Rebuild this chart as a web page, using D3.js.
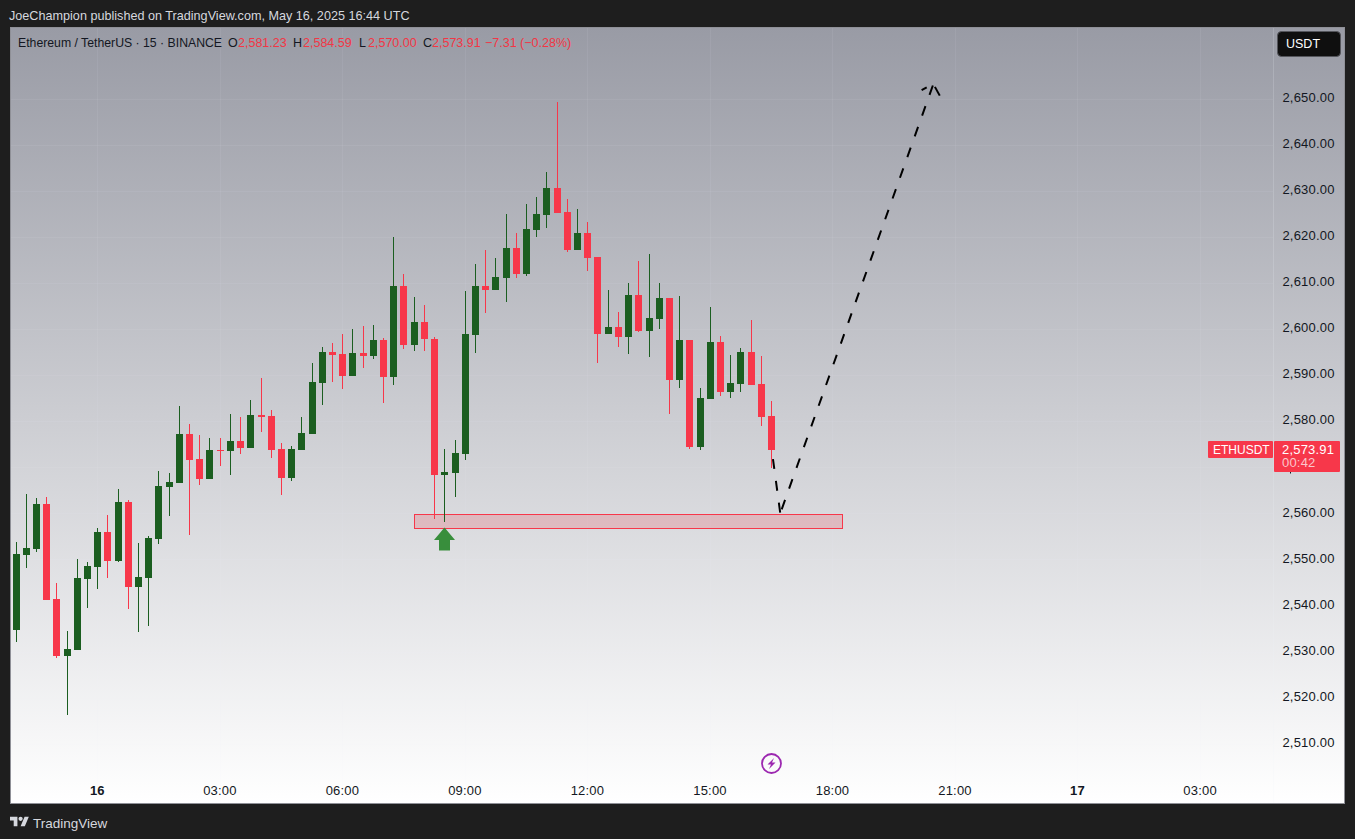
<!DOCTYPE html>
<html>
<head>
<meta charset="utf-8">
<script src="https://cdn.jsdelivr.net/npm/d3@7/dist/d3.min.js"></script>
<style>
  html, body { margin: 0; padding: 0; background: #1e1e1e; }
  svg { display: block; font-family: "Liberation Sans", Arial, sans-serif; }
  .axis text { fill: #131722; font-size: 13px; letter-spacing: 0.2px; }
</style>
</head>
<body>
<svg width="1355" height="839"></svg>
<script>
// 15 minute bars
var barOpen = [2534.78,2551.06,2552.37,2562.14,2541.51,2529.14,2530.44,2545.85,2548.46,2556.06,
  2549.76,2562.57,2544.12,2546.07,2554.54,2565.83,2566.70,2577.33,2571.91,2567.56,
  2573.86,2573.64,2575.81,2574.29,2581.46,2581.24,2574.08,2567.78,2573.86,2577.33,
  2588.41,2595.14,2594.70,2589.93,2594.92,2594.27,2597.74,2589.71,2609.47,2596.66,
  2601.65,2597.96,2568.43,2568.87,2572.99,2598.83,2609.47,2608.60,2611.20,2617.72,
  2612.07,2621.62,2624.88,2630.74,2625.53,2617.28,2620.97,2615.76,2599.05,2600.56,
  2598.39,2607.51,2599.70,2602.30,2606.86,2589.06,2597.74,2574.51,2584.93,2597.31,
  2586.45,2588.19,2595.14,2588.19,2581.23];
var barHigh = [2553.89,2564.31,2563.44,2563.66,2544.99,2534.56,2550.20,2549.54,2556.93,2559.75,
  2565.39,2563.00,2553.67,2555.19,2569.30,2568.87,2583.41,2579.51,2577.12,2576.47,
  2576.47,2581.68,2581.02,2584.72,2589.49,2582.54,2575.38,2574.73,2581.02,2592.75,
  2596.22,2597.09,2599.05,2600.13,2600.78,2601.00,2598.18,2620.10,2612.07,2607.08,
  2605.34,2598.39,2574.08,2576.03,2608.38,2614.24,2617.28,2615.55,2625.10,2620.97,
  2627.27,2628.79,2634.22,2649.41,2628.36,2626.18,2623.36,2615.76,2608.60,2603.82,
  2610.12,2614.89,2616.41,2610.12,2606.86,2607.30,2597.74,2587.32,2604.91,2598.61,
  2594.49,2596.01,2602.08,2594.27,2584.59];
var barLow = [2532.18,2548.24,2551.72,2541.29,2528.70,2516.33,2530.44,2539.56,2543.68,2546.07,
  2549.54,2539.34,2534.35,2535.65,2553.45,2559.53,2566.70,2555.41,2566.26,2567.56,
  2570.39,2568.43,2572.99,2574.29,2577.77,2572.12,2564.09,2567.13,2573.86,2577.33,
  2583.63,2588.62,2587.10,2589.93,2591.66,2593.62,2584.06,2587.97,2595.79,2595.35,
  2595.35,2558.88,2558.23,2563.66,2571.69,2594.92,2603.60,2608.60,2605.99,2611.20,
  2611.64,2620.10,2622.06,2625.32,2616.85,2617.28,2612.72,2592.75,2599.05,2596.22,
  2594.70,2599.48,2594.05,2600.13,2581.68,2587.32,2574.08,2573.86,2584.93,2585.58,
  2585.15,2586.45,2587.97,2579.07,2570.00];
var barClose = [2551.28,2552.58,2562.14,2541.29,2529.14,2530.66,2546.07,2548.68,2556.06,2549.76,
  2562.57,2544.12,2546.29,2554.75,2566.04,2566.91,2577.33,2571.69,2567.56,2573.86,
  2573.64,2575.81,2574.29,2581.46,2581.02,2573.86,2567.78,2574.08,2577.55,2588.62,
  2595.14,2594.49,2589.93,2594.92,2594.27,2597.74,2589.71,2609.47,2596.66,2601.65,
  2597.96,2568.43,2569.08,2573.21,2599.05,2609.47,2608.60,2611.42,2617.72,2612.07,
  2621.84,2625.10,2630.74,2625.32,2617.28,2620.97,2615.55,2599.05,2600.56,2598.39,
  2607.51,2599.70,2602.52,2606.86,2589.06,2597.74,2574.51,2585.15,2597.31,2586.45,
  2588.41,2595.14,2587.97,2581.02,2573.91];

var priceGrid = [2510,2520,2530,2540,2550,2560,2570,2580,2590,2600,2610,2620,2630,2640,2650];
// 2,570.00 sits behind the last price label in the reference
var priceLabels = [2510,2520,2530,2540,2550,2560,2580,2590,2600,2610,2620,2630,2640,2650];
var timeTickBars = [8,20,32,44,56,68,80,92,104,116];
var timeTickLabels = ["16","03:00","06:00","09:00","12:00","15:00","18:00","21:00","17","03:00"];

// drawings, in bar index / price
var zoneBars = [39, 81];
var zonePrices = [2559.9, 2556.9];
var signalBar = 42;
var eventBar = 74;
var dashLegs = [
  [[74.14,2571.9],[74.85,2560.2]],
  [[89.8,2653.0],[74.87,2560.2]],
  [[88.7,2652.0],[89.2,2652.6]],
  [[90.0,2652.7],[90.55,2650.5]]
];

var legendItems = [
  {t: "O", x: 228, c: "#131722"}, {t: "2,581.23", x: 238, c: "#f23645"},
  {t: "H", x: 293, c: "#131722"}, {t: "2,584.59", x: 303, c: "#f23645"},
  {t: "L", x: 359, c: "#131722"}, {t: "2,570.00", x: 368, c: "#f23645"},
  {t: "C", x: 423, c: "#131722"}, {t: "2,573.91", x: 432, c: "#f23645"},
  {t: "\u22127.31 (\u22120.28%)", x: 485, c: "#f23645"}
];

var red = "#f7374a", green = "#1b5e20";

var svg = d3.select("svg");

var x = d3.scaleLinear().domain([0, 74]).range([16, 771.54]);
var y = d3.scaleLinear().domain([2650, 2510]).range([99.3, 744.14]);

var defs = svg.append("defs");
var grad = defs.append("linearGradient").attr("id", "paneBg")
    .attr("x1", 0).attr("x2", 0).attr("y1", 0).attr("y2", 1);
grad.append("stop").attr("offset", "0%").attr("stop-color", "#999ba5");
grad.append("stop").attr("offset", "100%").attr("stop-color", "#ffffff");
defs.append("clipPath").attr("id", "paneClip").append("rect")
    .attr("x", 11).attr("y", 28).attr("width", 1262).attr("height", 775);

// chart pane
svg.append("rect").attr("x", 10.5).attr("y", 27.5).attr("width", 1334).attr("height", 776)
    .attr("fill", "url(#paneBg)").attr("stroke", "#8f9097");

// grid
var grid = svg.append("g").attr("shape-rendering", "crispEdges")
    .attr("stroke", "rgba(240,243,250,0.07)");
grid.selectAll(".h").data(priceGrid).enter().append("line").attr("class", "h")
    .attr("x1", 11).attr("x2", 1273)
    .attr("y1", function(d) { return Math.floor(y(d)) + 0.5; })
    .attr("y2", function(d) { return Math.floor(y(d)) + 0.5; });
grid.selectAll(".v").data(timeTickBars).enter().append("line").attr("class", "v")
    .attr("y1", 28).attr("y2", 803)
    .attr("x1", function(d) { return Math.floor(x(d)) + 0.5; })
    .attr("x2", function(d) { return Math.floor(x(d)) + 0.5; });

// scale divider
svg.append("line").attr("x1", 1273.5).attr("x2", 1273.5).attr("y1", 28).attr("y2", 803)
    .attr("stroke", "rgba(240,243,250,0.18)");

// price axis
var yAxis = d3.axisRight(y).tickValues(priceLabels).tickSize(0).tickPadding(8)
    .tickFormat(d3.format(",.2f"));
var yg = svg.append("g").attr("class", "axis").attr("transform", "translate(1274.4,-2)").call(yAxis);
yg.select(".domain").remove();

// time axis
var xAxis = d3.axisBottom(x).tickValues(timeTickBars).tickSize(0).tickPadding(0)
    .tickFormat(function(d, i) { return timeTickLabels[i]; });
var xg = svg.append("g").attr("class", "axis").attr("transform", "translate(-0.8,786)").call(xAxis);
xg.select(".domain").remove();
xg.selectAll("text").style("font-weight", function(d, i) {
    return /:/.test(timeTickLabels[i]) ? "normal" : "bold";
});

// support zone goes under the bars
svg.append("rect")
    .attr("x", Math.floor(x(zoneBars[0])) + 0.5)
    .attr("y", Math.floor(y(zonePrices[0])) + 0.5)
    .attr("width", Math.round(x(zoneBars[1]) - x(zoneBars[0])) - 1)
    .attr("height", Math.round(y(zonePrices[1]) - y(zonePrices[0])))
    .attr("fill", "rgba(242,54,69,0.2)")
    .attr("stroke", "#f7374a").attr("shape-rendering", "crispEdges");

// candles
var candle = svg.append("g").attr("clip-path", "url(#paneClip)").attr("shape-rendering", "crispEdges")
    .selectAll("g").data(barOpen).enter().append("g")
    .attr("fill", function(d, i) { return barClose[i] < d ? red : green; });
candle.append("rect")
    .attr("x", function(d, i) { return Math.floor(x(i)); })
    .attr("width", 1)
    .attr("y", function(d, i) { return Math.round(y(barHigh[i])); })
    .attr("height", function(d, i) { return Math.round(y(barLow[i])) - Math.round(y(barHigh[i])); });
candle.append("rect")
    .attr("x", function(d, i) { return Math.floor(x(i)) - 3; })
    .attr("width", 7)
    .attr("y", function(d, i) { return Math.round(y(Math.max(d, barClose[i]))); })
    .attr("height", function(d, i) {
        return Math.max(1, Math.round(y(Math.min(d, barClose[i]))) - Math.round(y(Math.max(d, barClose[i]))));
    });

// projected move
var dashLine = d3.line()
    .x(function(d) { return x(d[0]); })
    .y(function(d) { return y(d[1]); });
svg.append("g").selectAll("path").data(dashLegs).enter().append("path")
    .attr("d", dashLine).attr("fill", "none")
    .attr("stroke", "#000").attr("stroke-width", 2).attr("stroke-dasharray", "10 12");

// long signal arrow
svg.append("path")
    .attr("transform", "translate(" + (Math.floor(x(signalBar)) + 0.5) + ",527.5)")
    .attr("d", "M0 0L10.5 12.5H5.5V23H-5.5V12.5H-10.5Z")
    .attr("fill", "#388e3c");

// event marker
var ev = svg.append("g").attr("transform", "translate(" + (Math.floor(x(eventBar)) + 0.5) + ",763.5)");
ev.append("circle").attr("r", 9.5).attr("fill", "none").attr("stroke", "#9c27b0").attr("stroke-width", 1.8);
ev.append("path").attr("d", "M2.5 -5.5L-4 1H-0.5L-2.5 5.5L4 -1H0.5Z").attr("fill", "#9c27b0");

// currency button
svg.append("rect").attr("x", 1277.5).attr("y", 31.5).attr("width", 63).attr("height", 25).attr("rx", 4)
    .attr("fill", "#0f0f0f").attr("stroke", "#55565c");
svg.append("text").attr("x", 1286).attr("y", 48).attr("fill", "#fff").attr("font-size", 12.5).text("USDT");

// last price labels, the comma of the hidden 2,570.00 pokes out below
svg.append("rect").attr("x", 1290).attr("y", 472).attr("width", 1).attr("height", 1.5).attr("fill", "#131722");
svg.append("rect").attr("x", 1208).attr("y", 441).attr("width", 65).attr("height", 17).attr("rx", 1).attr("fill", red);
svg.append("text").attr("x", 1213).attr("y", 454).attr("fill", "#fff").attr("font-size", 12).text("ETHUSDT");
svg.append("rect").attr("x", 1274).attr("y", 441).attr("width", 66).attr("height", 31).attr("rx", 1).attr("fill", red);
svg.append("text").attr("x", 1282).attr("y", 454).attr("fill", "#fff").attr("font-size", 13).attr("letter-spacing", 0.2).text("2,573.91");
svg.append("text").attr("x", 1282).attr("y", 467).attr("fill", "#fbc6cc").attr("font-size", 13).attr("letter-spacing", 0.2).text("00:42");

// legend
svg.append("text").attr("x", 18).attr("y", 47).attr("fill", "#131722").attr("font-size", 12.25)
    .text("Ethereum / TetherUS \u00b7 15 \u00b7 BINANCE");
svg.append("g").selectAll("text").data(legendItems).enter().append("text")
    .attr("x", function(d) { return d.x; }).attr("y", 47)
    .attr("fill", function(d) { return d.c; }).attr("font-size", 12.5)
    .text(function(d) { return d.t; });

// header and footer
svg.append("text").attr("x", 9).attr("y", 20).attr("fill", "#d6d8de").attr("font-size", 12.63)
    .text("JoeChampion published on TradingView.com, May 16, 2025 16:44 UTC");
svg.append("g").attr("transform", "translate(10,814.6) scale(0.53)").attr("fill", "#d6d8de")
    .call(function(g) {
        g.append("path").attr("d", "M14 22H7V11H0V4h14v18zM28 22h-8l7.5-18h8L28 22z");
        g.append("circle").attr("cx", 20).attr("cy", 8).attr("r", 4);
    });
svg.append("text").attr("x", 33).attr("y", 828).attr("fill", "#d6d8de").attr("font-size", 13.5).text("TradingView");
</script>
</body>
</html>
